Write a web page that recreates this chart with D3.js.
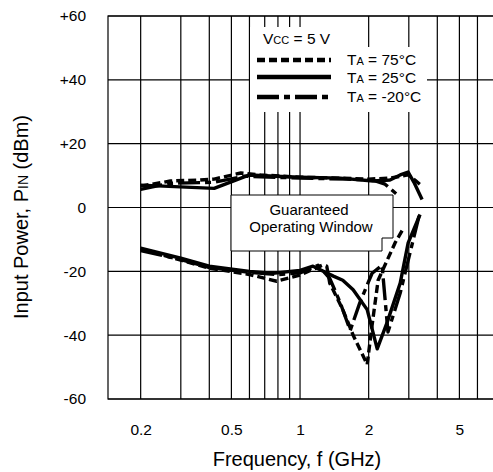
<!DOCTYPE html>
<html>
<head>
<meta charset="utf-8">
<script src="https://cdn.jsdelivr.net/npm/d3@7"></script>
<style>
  html, body { margin: 0; padding: 0; background: #fff; }
  svg { display: block; font-family: "Liberation Sans", Arial, sans-serif; }
</style>
</head>
<body>
<svg id="chart" width="493" height="472"></svg>
<script>
// Tick labels and grid positions
const freqTicks = [0.2, 0.5, 1, 2, 5];
const gridFreqs = [0.2, 0.3, 0.4, 0.5, 0.6, 0.7, 0.8, 0.9, 1, 2, 3, 4, 5, 6];
const dbTicks = [60, 40, 20, 0, -20, -40, -60];

// Upper boundary (max input power), [GHz, dBm]
const maxT25 = [[0.2, 7.0], [0.42, 6.0], [0.6, 10.2], [0.78, 9.8], [1.0, 9.5], [1.5, 9.2],
  [2.09, 8.3], [2.48, 8.6], [2.75, 10.2], [2.98, 11.1], [3.16, 7.9], [3.43, 2.5]];
const maxT75 = [[0.2, 6.7], [0.27, 8.3], [0.36, 8.6], [0.42, 8.9], [0.55, 10.8], [0.67, 10.2],
  [1.0, 9.5], [1.5, 9.2], [2.0, 8.9], [2.48, 9.2], [2.98, 10.2], [3.19, 8.6], [3.43, 6.7]];
const maxTm20 = [[0.2, 5.7], [0.27, 7.6], [0.42, 7.9], [0.57, 9.8], [1.0, 9.2], [1.6, 8.9],
  [2.09, 8.6], [2.36, 7.3], [2.66, 4.1]];

// Lower boundary (min input power), [GHz, dBm]
const minT25 = [[0.2, -12.7], [0.3, -15.9], [0.4, -18.4], [0.6, -20], [0.76, -20.6], [1.0, -19.7],
  [1.14, -18.4], [1.4, -21.5], [1.54, -22.8], [1.71, -25.8], [1.97, -32], [2.18, -44.3],
  [2.41, -36], [2.75, -23.7], [2.98, -11.1], [3.36, -2.2]];
const minT75 = [[0.2, -13], [0.3, -16.5], [0.4, -19], [0.6, -21], [0.79, -23.1], [1.0, -21.2],
  [1.25, -18.1], [1.31, -18.4], [1.35, -23.7], [1.54, -32], [1.71, -40], [1.97, -49.2],
  [2.07, -36.9], [2.2, -22.8], [2.61, -11.1], [2.83, -6.7]];
const minTm20 = [[0.2, -13.5], [0.3, -16.3], [0.4, -18.8], [0.6, -20.3], [0.8, -21], [1.0, -20.5],
  [1.2, -18.1], [1.35, -22.2], [1.5, -29.8], [1.66, -38.5], [1.83, -29.8], [2.07, -20.6],
  [2.29, -18.1], [2.43, -39], [2.75, -26.8], [3.33, -2.5]];

const DASHED = '8,4';
const DASHDOT = '22,5,6,5';

const svg = d3.select('#chart');
const plotL = 108, plotR = 493, plotT = 16, plotB = 399;

const x = d3.scaleLog().domain([0.1438, 7.02]).range([plotL, plotR]);
const y = d3.scaleLinear().domain([-60, 60]).range([plotB, plotT]);

// Grid
const grid = svg.append('g').attr('stroke', '#000').attr('stroke-width', 1.2);
grid.selectAll('.vg').data(gridFreqs).join('line')
  .attr('x1', d => x(d)).attr('x2', d => x(d))
  .attr('y1', plotT).attr('y2', plotB);
grid.selectAll('.hg').data(dbTicks).join('line')
  .attr('x1', plotL).attr('x2', plotR)
  .attr('y1', d => y(d)).attr('y2', d => y(d));
grid.append('rect')
  .attr('x', plotL).attr('y', plotT)
  .attr('width', plotR - plotL + 5).attr('height', plotB - plotT)
  .attr('fill', 'none');

// Tick labels
const yAxis = svg.append('g')
  .attr('transform', `translate(${plotL},0)`)
  .call(d3.axisLeft(y).tickValues(dbTicks).tickSize(0).tickPadding(22)
    .tickFormat(d => d > 0 ? '+' + d : String(d)));
const xAxis = svg.append('g')
  .attr('transform', `translate(0,${plotB})`)
  .call(d3.axisBottom(x).tickValues(freqTicks).tickSize(0).tickPadding(25)
    .tickFormat(d => String(d)));
[yAxis, xAxis].forEach(a => {
  a.select('.domain').remove();
  a.selectAll('text').attr('font-size', 15.5).attr('fill', '#000')
    .style('font-family', '"Liberation Sans", Arial, sans-serif');
});

// Curves
const line = d3.line().x(d => x(d[0])).y(d => y(d[1]));
const series = [
  { data: maxT75, dash: DASHED }, { data: maxTm20, dash: DASHDOT }, { data: maxT25, dash: null },
  { data: minT75, dash: DASHED }, { data: minTm20, dash: DASHDOT }, { data: minT25, dash: null }
];
svg.append('g').selectAll('path').data(series).join('path')
  .attr('d', d => line(d.data))
  .attr('fill', 'none')
  .attr('stroke', '#000')
  .attr('stroke-width', 3.4)
  .attr('stroke-linejoin', 'round')
  .attr('stroke-dasharray', d => d.dash);

// Legend box
const lg = svg.append('g');
lg.append('rect').attr('x', 250).attr('y', 27).attr('width', 95).attr('height', 85).attr('fill', '#fff');
lg.append('rect').attr('x', 250).attr('y', 47).attr('width', 177).attr('height', 65).attr('fill', '#fff');
const vcc = lg.append('text').attr('x', 263).attr('y', 44).attr('font-size', 15.5);
vcc.append('tspan').text('V');
vcc.append('tspan').attr('font-size', 11).text('CC');
vcc.append('tspan').text(' = 5 V');

const legendItems = [
  { label: '75°C', dash: DASHED, ly: 60, ty: 65 },
  { label: '25°C', dash: null, ly: 77, ty: 83 },
  { label: '-20°C', dash: DASHDOT, ly: 97, ty: 102 }
];
legendItems.forEach(it => {
  lg.append('line')
    .attr('x1', 257).attr('x2', 331).attr('y1', it.ly).attr('y2', it.ly)
    .attr('stroke', '#000').attr('stroke-width', 4.5)
    .attr('stroke-dasharray', it.dash);
  const t = lg.append('text').attr('x', 347).attr('y', it.ty).attr('font-size', 15.5);
  t.append('tspan').text('T');
  t.append('tspan').attr('font-size', 11).text('A');
  t.append('tspan').text(' = ' + it.label);
});

// Guaranteed Operating Window box
const win = svg.append('g');
win.append('path')
  .attr('d', 'M231,195 H393 V238 H382 V251 H231 Z')
  .attr('fill', '#fff').attr('stroke', '#000').attr('stroke-width', 1);
win.append('text').attr('x', 309).attr('y', 215).attr('text-anchor', 'middle')
  .attr('font-size', 15).text('Guaranteed');
win.append('text').attr('x', 311).attr('y', 232).attr('text-anchor', 'middle')
  .attr('font-size', 15).text('Operating Window');

// Axis titles
svg.append('text')
  .attr('x', 297).attr('y', 466).attr('text-anchor', 'middle')
  .attr('font-size', 20).text('Frequency, f (GHz)');
const yt = svg.append('text')
  .attr('transform', 'translate(28,217) rotate(-90)')
  .attr('text-anchor', 'middle')
  .attr('font-size', 20);
yt.append('tspan').text('Input Power, P');
yt.append('tspan').attr('font-size', 14).text('IN');
yt.append('tspan').text(' (dBm)');
</script>
</body>
</html>
